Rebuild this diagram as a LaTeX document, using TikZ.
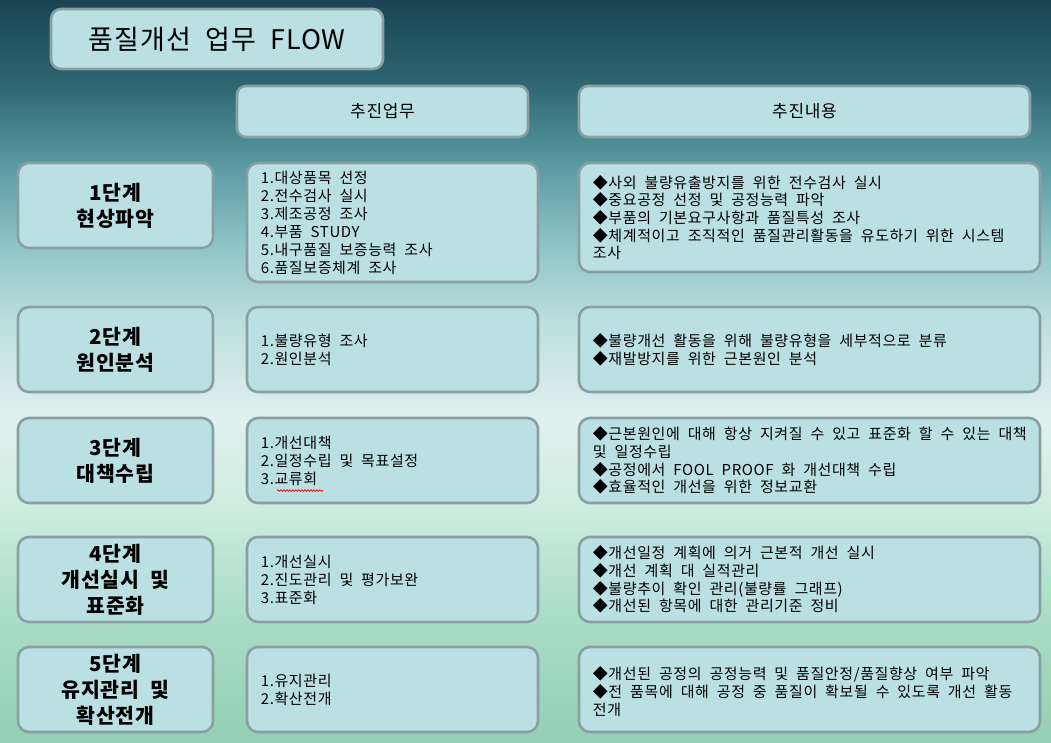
\documentclass[tikz,border=0pt]{standalone}
\usepackage{fontspec}
\setmainfont{Noto Sans CJK KR}[WordSpace=2.0, LetterSpace=4]
\usetikzlibrary{decorations.pathmorphing}
\definecolor{boxfill}{HTML}{BBE0E3}
\definecolor{boxline}{HTML}{8A9FA2}
\definecolor{bgA}{HTML}{1A4453}
\definecolor{bgB}{HTML}{2C6470}
\definecolor{bgC}{HTML}{5797A0}
\definecolor{bgD}{HTML}{8CC2C5}
\definecolor{bgE}{HTML}{BCDEDF}
\definecolor{bgF}{HTML}{E0F1EE}
\definecolor{bgG}{HTML}{CFEDE1}
\definecolor{bgH}{HTML}{ADDFC8}
\definecolor{bgI}{HTML}{92CFB3}
\begin{document}
\begin{tikzpicture}[x=1pt,y=-1pt,
  box/.style={draw=boxline, fill=boxfill, line width=2.6pt, rounded corners=11pt, inner sep=0pt},
  stagetext/.style={align=center, font=\fontsize{20.5}{26}\selectfont\bfseries, inner sep=0pt},
  midtext/.style={align=left, anchor=west, font=\fontsize{15}{18}\selectfont, inner sep=0pt},
  righttext/.style={align=left, anchor=west, font=\fontsize{15}{17.7}\selectfont, inner sep=0pt},
  headtext/.style={font=\fontsize{17}{19}\selectfont, inner sep=0pt}]
\useasboundingbox (0,0) rectangle (1051,742);
% background
\shade[top color=bgA, bottom color=bgB] (0,0) rectangle (1051,80.5);
\shade[top color=bgB, bottom color=bgC] (0,80) rectangle (1051,160.5);
\shade[top color=bgC, bottom color=bgD] (0,160) rectangle (1051,240.5);
\shade[top color=bgD, bottom color=bgE] (0,240) rectangle (1051,320.5);
\shade[top color=bgE, bottom color=bgF] (0,320) rectangle (1051,420.5);
\shade[top color=bgF, bottom color=bgG] (0,420) rectangle (1051,500.5);
\shade[top color=bgG, bottom color=bgH] (0,500) rectangle (1051,600.5);
\shade[top color=bgH, bottom color=bgI] (0,600) rectangle (1051,742);

% title and headers
\node[box, rounded corners=10pt, minimum width=332pt, minimum height=60pt] (title) at (217,39) {};
\node[font=\fontsize{27}{30}\selectfont, inner sep=0pt] (titletext) at (title.center) {품질개선 업무 FLOW};
\node[box, rounded corners=9pt, minimum width=291pt, minimum height=51pt] (h1) at (382.5,111.5) {};
\node[headtext] (h1t) at (h1.center) {추진업무};
\node[box, rounded corners=9pt, minimum width=451pt, minimum height=51pt] (h2) at (804.5,111.5) {};
\node[headtext] (h2t) at (h2.center) {추진내용};

% row 1
\node[box, minimum width=195pt, minimum height=85pt] (s1) at (115.5,205.5) {};
\node[stagetext] (s1t) at (s1.center) {1단계\\현상파악};
\node[box, minimum width=291pt, minimum height=119pt] (m1) at (392.5,222.5) {};
\node[midtext] (m1t) at ([xshift=15pt]m1.west) {1.대상품목 선정\\2.전수검사 실시\\3.제조공정 조사\\4.부품 STUDY\\5.내구품질 보증능력 조사\\6.품질보증체계 조사};
\node[box, minimum width=461pt, minimum height=109pt] (r1) at (809.5,217.5) {};
\node[righttext] (r1t) at ([xshift=15pt]r1.west) {◆사외 불량유출방지를 위한 전수검사 실시\\◆중요공정 선정 및 공정능력 파악\\◆부품의 기본요구사항과 품질특성 조사\\◆체계적이고 조직적인 품질관리활동을 유도하기 위한 시스템\\조사};

% row 2
\node[box, minimum width=195pt, minimum height=85pt] (s2) at (115.5,349.5) {};
\node[stagetext] (s2t) at (s2.center) {2단계\\원인분석};
\node[box, minimum width=291pt, minimum height=85pt] (m2) at (392.5,349.5) {};
\node[midtext] (m2t) at ([xshift=15pt]m2.west) {1.불량유형 조사\\2.원인분석};
\node[box, minimum width=461pt, minimum height=85pt] (r2) at (809.5,349.5) {};
\node[righttext] (r2t) at ([xshift=15pt]r2.west) {◆불량개선 활동을 위해 불량유형을 세부적으로 분류\\◆재발방지를 위한 근본원인 분석};

% row 3
\node[box, minimum width=195pt, minimum height=85pt] (s3) at (115.5,460.5) {};
\node[stagetext] (s3t) at (s3.center) {3단계\\대책수립};
\node[box, minimum width=291pt, minimum height=85pt] (m3) at (392.5,460.5) {};
\node[midtext] (m3t) at ([xshift=15pt]m3.west) {1.개선대책\\2.일정수립 및 목표설정\\3.교류회};
\draw[red, line width=0.7pt, decorate, decoration={snake, amplitude=0.8pt, segment length=3pt}] (277,490.5) -- (323,490.5);
\node[box, minimum width=461pt, minimum height=85pt] (r3) at (809.5,460.5) {};
\node[righttext] (r3t) at ([xshift=15pt]r3.west) {◆근본원인에 대해 항상 지켜질 수 있고 표준화 할 수 있는 대책\\및 일정수립\\◆공정에서 FOOL PROOF 화 개선대책 수립\\◆효율적인 개선을 위한 정보교환};

% row 4
\node[box, minimum width=195pt, minimum height=85pt] (s4) at (115.5,579.5) {};
\node[stagetext] (s4t) at (s4.center) {4단계\\개선실시 및\\표준화};
\node[box, minimum width=291pt, minimum height=85pt] (m4) at (392.5,579.5) {};
\node[midtext] (m4t) at ([xshift=15pt]m4.west) {1.개선실시\\2.진도관리 및 평가보완\\3.표준화};
\node[box, minimum width=461pt, minimum height=85pt] (r4) at (809.5,579.5) {};
\node[righttext] (r4t) at ([xshift=15pt]r4.west) {◆개선일정 계획에 의거 근본적 개선 실시\\◆개선 계획 대 실적관리\\◆불량추이 확인 관리(불량률 그래프)\\◆개선된 항목에 대한 관리기준 정비};

% row 5
\node[box, minimum width=195pt, minimum height=85pt] (s5) at (115.5,689.5) {};
\node[stagetext] (s5t) at (s5.center) {5단계\\유지관리 및\\확산전개};
\node[box, minimum width=291pt, minimum height=85pt] (m5) at (392.5,689.5) {};
\node[midtext] (m5t) at ([xshift=15pt]m5.west) {1.유지관리\\2.확산전개};
\node[box, minimum width=461pt, minimum height=85pt] (r5) at (809.5,689.5) {};
\node[righttext] (r5t) at ([xshift=15pt,yshift=-2pt]r5.west) {◆개선된 공정의 공정능력 및 품질안정/품질향상 여부 파악\\◆전 품목에 대해 공정 중 품질이 확보될 수 있도록 개선 활동\\전개};
\end{tikzpicture}
\end{document}
